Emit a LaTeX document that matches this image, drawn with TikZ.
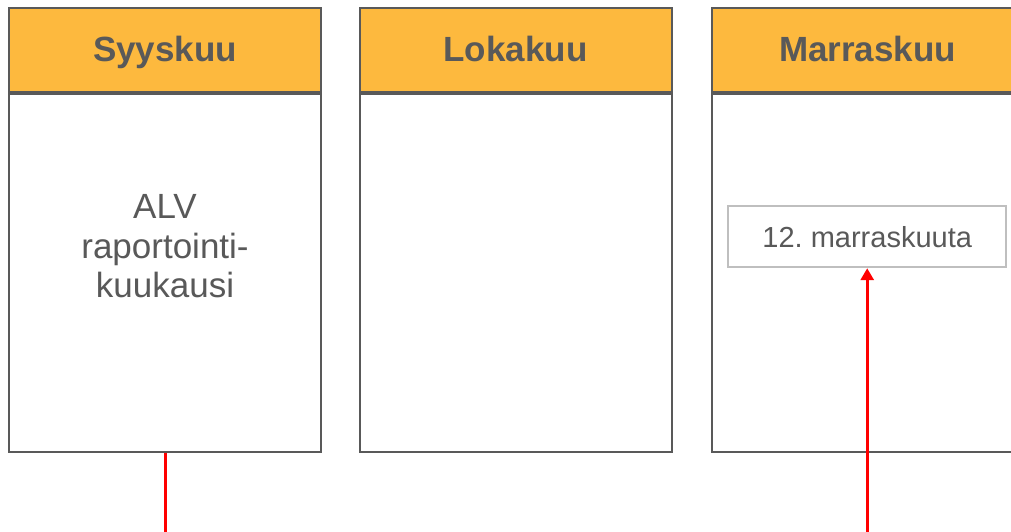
\documentclass[tikz,border=0pt]{standalone}
\usepackage{fontspec}
\setmainfont{Liberation Sans}
\usepackage{xcolor}
\usetikzlibrary{arrows.meta}

\definecolor{kkorange}{RGB}{253,185,62}
\definecolor{kkgrey}{RGB}{89,89,89}
\definecolor{kklight}{RGB}{191,191,191}

\tikzset{
	monthhead/.style={draw=kkgrey, line width=2pt, fill=kkorange, minimum width=312pt, minimum height=84pt, inner sep=0pt, text height=25pt, text depth=0.2pt, text=kkgrey, font=\fontsize{35}{40}\selectfont\bfseries},
	monthbody/.style={draw=kkgrey, line width=2pt, fill=white, minimum width=312pt, minimum height=358pt, inner sep=0pt, anchor=north},
	datebox/.style={draw=kklight, line width=2pt, fill=white, minimum width=278pt, minimum height=61pt, inner sep=0pt, text=kkgrey, font=\fontsize{29}{33}\selectfont\frenchspacing},
	redline/.style={red, line width=3pt}
}

\begin{document}
\begin{tikzpicture}[x=1pt, y=-1pt]
		\useasboundingbox (0,0) rectangle (1011,532);
		\clip (0,0) rectangle (1011,532);
		% kuukaudet
		\node[monthhead] (headA) at (165,49.6) {Syyskuu};
		\node[monthbody] (bodyA) at (headA.south) {};
		\node[monthhead] (headB) at (515.5,49.6) {Lokakuu};
		\node[monthbody] (bodyB) at (headB.south) {};
		\node[monthhead] (headC) at (867.5,49.6) {Marraskuu};
		\node[monthbody] (bodyC) at (headC.south) {};
		% teksti ja päivämäärä
		\node[align=center, anchor=base, text=kkgrey, font=\fontsize{35}{39.5}\selectfont] (alv) at (165,297.5) {ALV\\raportointi-\\kuukausi};
		\node[datebox] (date) at (867.2,236.7) {12. marraskuuta};
		% nuolet
		\coordinate (footA) at (bodyA.south |- 0,532);
		\coordinate (footC) at (date.south |- 0,532);
		\draw[redline] (bodyA.south) -- (footA);
		\draw[redline, -{Triangle[width=13pt, length=12pt]}] (footC) -- (date.south);
	\end{tikzpicture}
\end{document}
